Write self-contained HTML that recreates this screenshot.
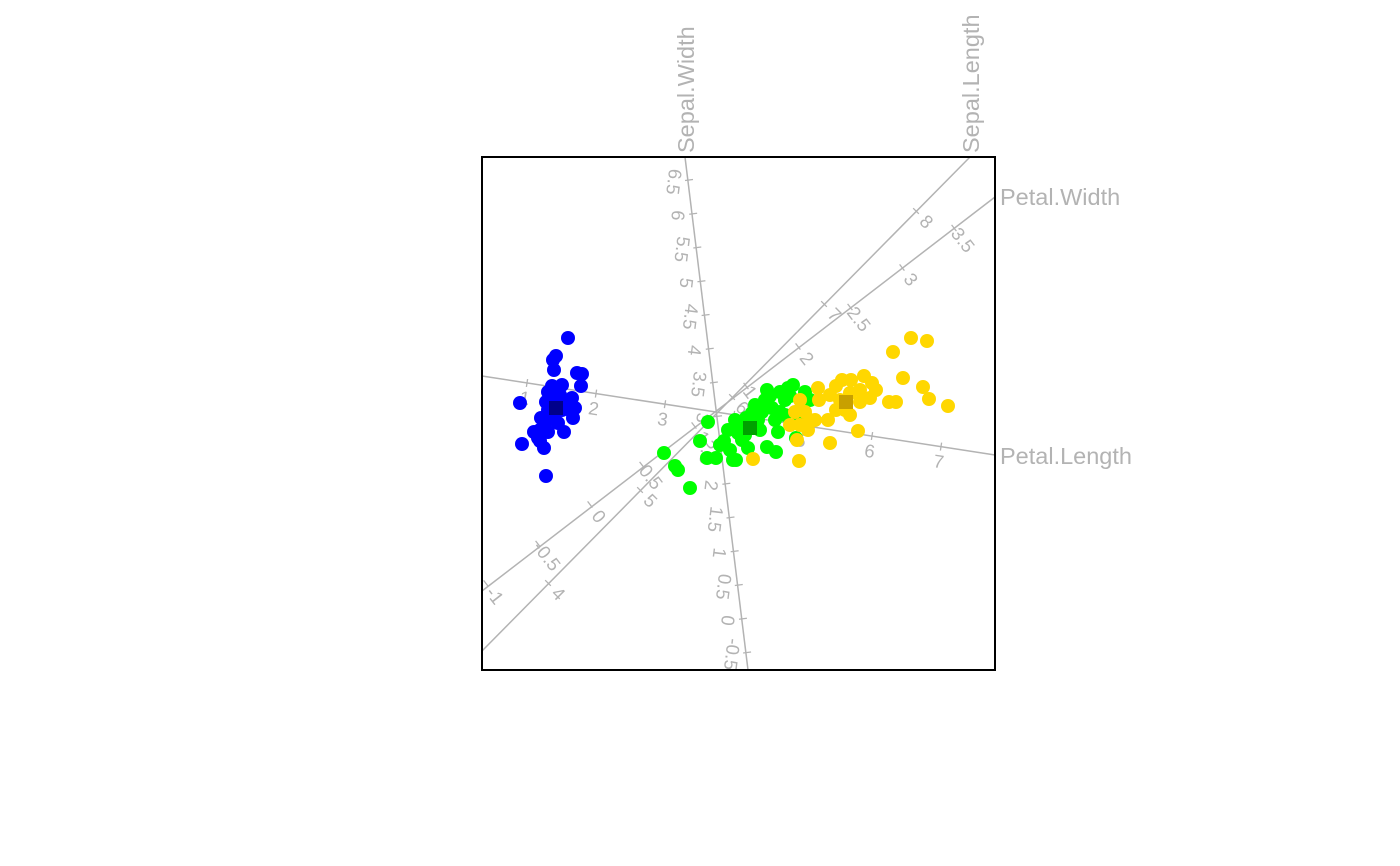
<!DOCTYPE html>
<html><head><meta charset="utf-8"><style>
html,body{margin:0;padding:0;background:#fff;}
svg{display:block;font-family:"Liberation Sans",sans-serif;}
</style></head><body>
<svg id="s" width="1400" height="866" viewBox="0 0 1400 866" xmlns="http://www.w3.org/2000/svg">
<rect x="0" y="0" width="1400" height="866" fill="#fff"/>
<g id="ax" stroke="#b3b3b3" stroke-width="1.5" fill="none">
<line x1="685" y1="157" x2="748" y2="670"/>
<line x1="482" y1="651" x2="970" y2="157"/>
<line x1="482" y1="591" x2="995" y2="197"/>
<line x1="482" y1="376" x2="995" y2="455"/>
</g>
<g id="tk"></g>
<g id="pts"></g>
<rect x="482" y="157" width="513" height="513" fill="none" stroke="#000" stroke-width="2"/>
<g fill="#b3b3b3" font-size="23.5">
<text transform="translate(694,153) rotate(-90)">Sepal.Width</text>
<text transform="translate(979,153) rotate(-90)">Sepal.Length</text>
<text x="1000" y="205">Petal.Width</text>
<text x="1000" y="464">Petal.Length</text>
</g>
</svg>
<script>
var NS="http://www.w3.org/2000/svg";
var tk=document.getElementById("tk");
function el(n,a,p){var e=document.createElementNS(NS,n);for(var k in a)e.setAttribute(k,a[k]);p.appendChild(e);return e;}
function axis(vals,pt,nrm,off,rot){
 vals.forEach(function(v){
  var p=pt(v);
  el("line",{x1:p[0]-nrm[0]*4,y1:p[1]-nrm[1]*4,x2:p[0]+nrm[0]*4,y2:p[1]+nrm[1]*4,stroke:"#b3b3b3","stroke-width":1.3},tk);
  var lx=p[0]+nrm[0]*off,ly=p[1]+nrm[1]*off;
  var t=el("text",{transform:"translate("+lx+","+ly+") rotate("+rot+")","text-anchor":"middle","dominant-baseline":"central",fill:"#b3b3b3","font-size":"18.5"},tk);
  t.textContent=String(v);
 });
}
axis([6.5,6,5.5,5,4.5,4,3.5,3,2.5,2,1.5,1,0.5,0,-0.5],function(v){return[689+(6.5-v)*8.3,180+(6.5-v)*67.5];},[-0.993,0.122],15,97);
axis([1,2,3,4,5,6,7],function(v){return[527+(v-1)*69,383+(v-1)*10.6];},[-0.152,0.988],15,8.8);
axis([4,5,6,7,8],function(v){return[916-(8-v)*92,211+(8-v)*93];},[0.71,0.70],15,45);
axis([-1,-0.5,0,0.5,1,1.5,2,2.5,3,3.5],function(v){return[954-(3.5-v)*2*52,228+(3.5-v)*2*39.5];},[0.6,0.79],15,52);
var pts=document.getElementById("pts");
var B=[[568,338],[556,356],[553,360],[554,370],[577,373],[582,374],[562,385],[552,386],[581,386],[548,392],[560,395],[572,398],[520,403],[546,402],[566,402],[575,408],[548,410],[562,410],[572,412],[541,418],[553,418],[573,418],[545,425],[558,423],[540,430],[534,432],[548,432],[564,432],[538,438],[522,444],[540,441],[544,448],[546,476],[555,400],[550,397],[565,405]];
var G=[[664,453],[675,466],[678,470],[690,488],[700,441],[708,422],[707,458],[716,458],[720,445],[724,441],[730,450],[733,460],[736,460],[738,433],[740,425],[746,418],[748,448],[752,413],[758,420],[762,412],[767,390],[770,396],[772,408],[775,420],[778,432],[780,392],[785,400],[788,388],[793,385],[790,396],[767,447],[776,452],[800,418],[805,392],[810,400],[760,430],[742,440],[728,430],[735,420],[745,435],[755,405],[780,412],[796,438],[785,415],[765,400]];
var Y=[[893,352],[911,338],[927,341],[836,386],[842,380],[851,380],[864,376],[872,383],[876,390],[818,388],[830,395],[850,393],[860,390],[903,378],[923,387],[929,399],[948,406],[889,402],[896,402],[860,402],[845,410],[836,410],[828,420],[815,420],[805,412],[795,412],[800,425],[810,420],[808,430],[797,440],[830,443],[858,431],[753,459],[799,461],[819,400],[800,400],[790,425],[850,415],[870,398],[840,400]];
function dr(a,c){a.forEach(function(p){el("circle",{cx:p[0],cy:p[1],r:7,fill:c},pts);});}
dr(B,"#0000ff");dr(G,"#00ff00");dr(Y,"#ffd700");
el("rect",{x:549,y:401,width:14,height:14,fill:"#00008b"},pts);
el("rect",{x:743,y:421,width:14,height:14,fill:"#00a000"},pts);
el("rect",{x:839,y:395,width:14,height:14,fill:"#c8a000"},pts);
</script>
</body></html>
